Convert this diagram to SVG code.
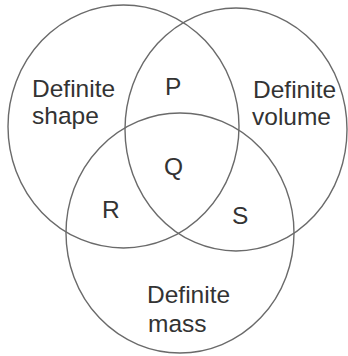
<svg xmlns="http://www.w3.org/2000/svg" width="348" height="356" viewBox="0 0 348 356">
<style>
.c{fill:none;stroke:#6a6a6a;stroke-width:1.4}
text{font-family:"Liberation Sans",Arial,sans-serif;font-size:24.5px;fill:#333}
</style>
<rect width="348" height="356" fill="#fff"/>
<g id="shape">
<ellipse class="c" cx="123.5" cy="126.5" rx="115.5" ry="121.5"/>
<text x="32" y="97">Definite</text>
<text x="32" y="124">shape</text>
</g>
<g id="volume">
<ellipse class="c" cx="236" cy="129.5" rx="111" ry="121.5"/>
<text x="253" y="98">Definite</text>
<text x="252" y="125">volume</text>
</g>
<g id="mass">
<ellipse class="c" cx="180" cy="233" rx="114" ry="120"/>
<text x="147" y="303">Definite</text>
<text x="148" y="332">mass</text>
</g>
<g id="labels">
<text x="165" y="95">P</text>
<text x="164" y="175">Q</text>
<text x="102" y="218">R</text>
<text x="232" y="224">S</text>
</g>
</svg>
